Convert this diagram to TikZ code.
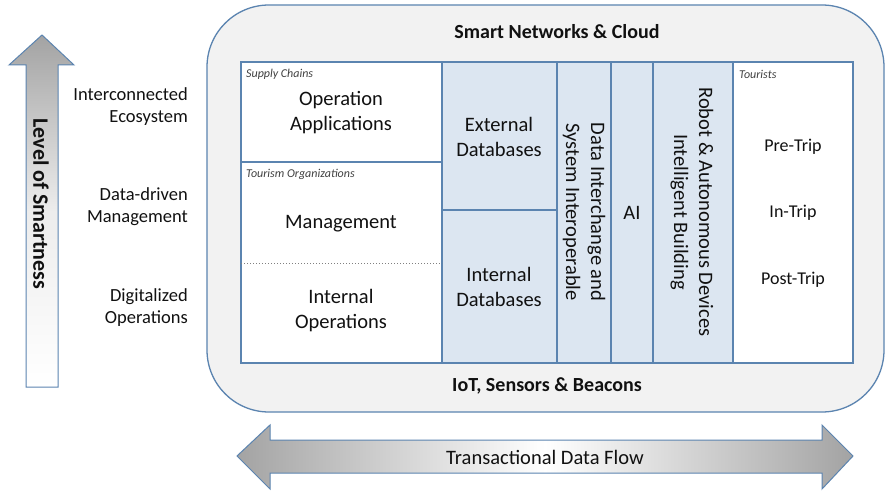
\documentclass[tikz,border=0pt]{standalone}
\usepackage{fontspec}
\setmainfont{Carlito}
\definecolor{bord}{HTML}{5B84B0}
\definecolor{panel}{HTML}{F2F2F2}
\definecolor{lblue}{HTML}{DCE6F1}
\definecolor{agray}{HTML}{A3A3A3}
\definecolor{txt}{HTML}{111111}
\tikzset{
  big/.style={font=\fontsize{20.5}{25}\selectfont, text=txt, align=center, inner sep=0pt},
  mid/.style={font=\fontsize{18}{22}\selectfont, text=txt, align=center, inner sep=0pt},
  lvl/.style={font=\fontsize{18.5}{22}\selectfont, text=txt, align=right, inner sep=0pt, anchor=east},
  small/.style={font=\fontsize{12}{14}\selectfont\itshape, text=txt!80, inner sep=0pt, anchor=west},
  bold/.style={font=\fontsize{20}{24}\selectfont\bfseries, text=txt, inner sep=0pt},
  gridline/.style={draw=bord, line width=1.3pt},
}
\begin{document}
\begin{tikzpicture}[x=1pt,y=-1pt]
\useasboundingbox (0,0) rectangle (887,492);
\fill[white] (0,0) rectangle (887,492);

% outer panel
\draw[bord, line width=1.3pt, fill=panel, rounded corners=62pt] (207,5) rectangle (884,412);

% inner grid
\filldraw[gridline, fill=white] (241,62) rectangle (442,363);
\filldraw[gridline, fill=lblue] (442,62) rectangle (733,363);
\filldraw[gridline, fill=white] (733,62) rectangle (853,363);
\draw[gridline] (557,62) -- (557,363);
\draw[gridline] (611,62) -- (611,363);
\draw[gridline] (653,62) -- (653,363);
\draw[gridline] (442,210) -- (557,210);
\draw[gridline] (241,162) -- (442,162);
\draw[gray, line width=1pt, dotted] (241,263) -- (442,263);

% up arrow
\shadedraw[draw=bord, line width=1pt, top color=agray, bottom color=white, middle color=white!80!agray]
  (42,35) -- (74,65) -- (58,65) -- (58,387) -- (26,387) -- (26,65) -- (9,65) -- cycle;
\node[bold, font=\fontsize{22}{26}\selectfont\bfseries, rotate=-90] (lvl) at (41,204) {Level of Smartness};

% double arrow
\shadedraw[draw=bord, line width=1pt, left color=agray, right color=agray, middle color=white]
  (237,456) -- (270,425) -- (270,440) -- (822,440) -- (822,425) -- (853,456)
  -- (822,489) -- (822,473) -- (270,473) -- (270,489) -- cycle;
\node[big] (flow) at (545,457) {Transactional Data Flow};

% level labels
\node[lvl] (l1) at (188,107) {Interconnected\\Ecosystem};
\node[lvl] (l2) at (188,207) {Data-driven\\Management};
\node[lvl] (l3) at (188,308) {Digitalized\\Operations};

% titles
\node[bold] (top) at (557,32) {Smart Networks \& Cloud};
\node[bold] (bot) at (547,386) {IoT, Sensors \& Beacons};

% inner texts
\node[small] (sc) at (246,74) {Supply Chains};
\node[small] (to) at (246,174) {Tourism Organizations};
\node[small] (tr) at (739,74) {Tourists};
\node[big] (oa) at (341,113) {Operation\\Applications};
\node[big] (mg) at (341,224) {Management};
\node[big] (io) at (341,311) {Internal\\Operations};
\node[big] (ed) at (499,137) {External\\Databases};
\node[big] (id) at (499,287) {Internal\\Databases};
\node[big, rotate=-90] (di) at (584,212) {Data Interchange and\\System Interoperable};
\node[big] (ai) at (632,213) {AI};
\node[big, rotate=-90] (rb) at (692,212) {Robot \& Autonomous Devices\\Intelligent Building};
\node[mid] (pre) at (793,147) {Pre-Trip};
\node[mid] (in) at (793,213) {In-Trip};
\node[mid] (post) at (793,280) {Post-Trip};
\end{tikzpicture}
\end{document}
